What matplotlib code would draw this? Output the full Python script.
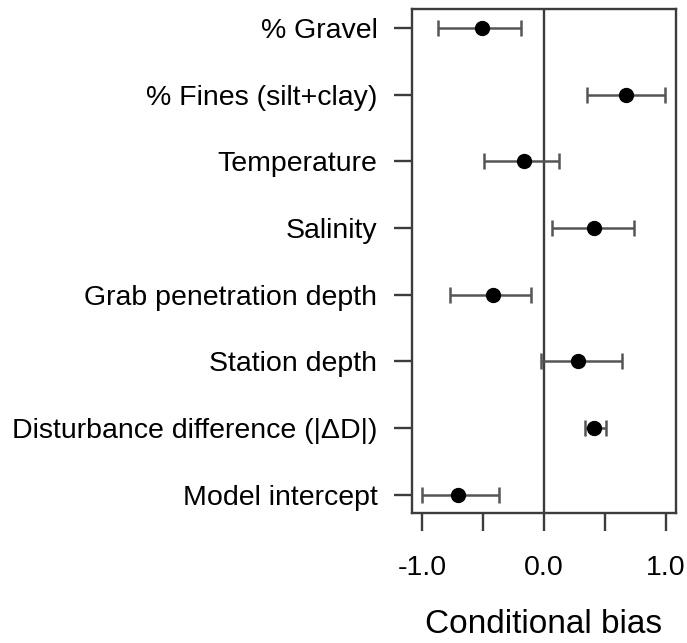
import matplotlib
matplotlib.use("Agg")
import matplotlib.pyplot as plt

plt.rcParams["font.family"] = ["Liberation Sans", "DejaVu Sans"]

# 위에서 아래 순서
labels = [
    "% Gravel",
    "% Fines (silt+clay)",
    "Temperature",
    "Salinity",
    "Grab penetration depth",
    "Station depth",
    "Disturbance difference (|\u0394D|)",
    "Model intercept",
]
estimate = [-0.51, 0.675, -0.167, 0.41, -0.418, 0.276, 0.41, -0.702]
lower = [-0.866, 0.35, -0.49, 0.063, -0.77, -0.025, 0.333, -1.0]
upper = [-0.19, 0.99, 0.125, 0.735, -0.107, 0.637, 0.505, -0.371]

xticks = [-1.0, -0.5, 0.0, 0.5, 1.0]
xticklabels = ["-1.0", "", "0.0", "", "1.0"]

axis_col = "#3c3c3c"
bar_col = "#555555"

n = len(labels)
ypos = list(range(n, 0, -1))
xerr = [[e - lo for e, lo in zip(estimate, lower)],
        [hi - e for e, hi in zip(estimate, upper)]]

fig = plt.figure(figsize=(6.87, 6.43), dpi=100)
ax = fig.add_axes([0.600, 0.2017, 0.3835, 0.7838])

ax.axvline(0, color=axis_col, lw=1.7, zorder=1)
ax.errorbar(estimate, ypos, xerr=xerr, fmt="none", ecolor=bar_col,
            elinewidth=1.8, capsize=5.8, capthick=1.8, zorder=2)
ax.plot(estimate, ypos, "o", color="black", ms=10, zorder=3)

ax.set_xlim(-1.08, 1.08)
ax.set_ylim(0.72, n + 0.28)
ax.set_yticks(ypos)
ax.set_yticklabels(labels, fontsize=20.5)
ax.set_xticks(xticks)
ax.set_xticklabels(xticklabels, fontsize=20.5)
ax.tick_params(axis="both", length=13, width=1.7, color=axis_col)
ax.tick_params(axis="y", pad=12)
ax.tick_params(axis="x", pad=17)
for s in ax.spines.values():
    s.set_color(axis_col)
    s.set_linewidth(1.7)
ax.set_xlabel("Conditional bias", fontsize=24, labelpad=20)

fig.savefig("out.png", dpi=100)
